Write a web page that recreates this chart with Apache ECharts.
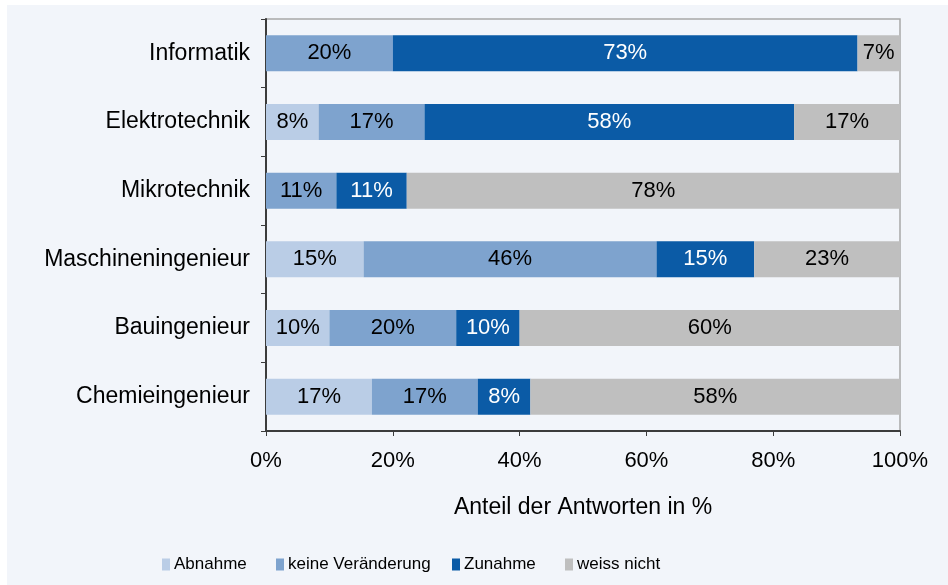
<!DOCTYPE html>
<html>
<head>
<meta charset="utf-8">
<script src="https://cdn.jsdelivr.net/npm/echarts@6/dist/echarts.min.js"></script>
<style>
  html, body { margin: 0; padding: 0; background: #ffffff; }
  #main { position: absolute; left: 7px; top: 5px; width: 941px; height: 580px; }
</style>
</head>
<body>
<div id="main"></div>
<script>
// Kategorien (von oben nach unten)
var categories = ['Informatik', 'Elektrotechnik', 'Mikrotechnik', 'Maschineningenieur', 'Bauingenieur', 'Chemieingenieur'];
var seriesNames = ['Abnahme', 'keine Veränderung', 'Zunahme', 'weiss nicht'];
// Anteile in %
var abnahme = [0, 8.3, 0, 15.4, 10, 16.7];
var keineVeraenderung = [20, 16.7, 11.1, 46.2, 20, 16.7];
var zunahme = [73.3, 58.3, 11.1, 15.4, 10, 8.3];
var weissNicht = [6.7, 16.7, 77.8, 23.1, 60, 58.3];
var xTicks = [0, 20, 40, 60, 80, 100];

var colors = ['#BACDE6', '#7EA3CE', '#0B5BA6', '#BFBFBF'];
var labelColors = ['#000000', '#000000', '#ffffff', '#000000'];
var font = 'Liberation Sans, Arial, sans-serif';
// Legendenpositionen (links), damit die Abstaende wie im Original sind
var legendLeft = [150, 264, 440, 553];

var chart = echarts.init(document.getElementById('main'));

function makeSeries(i, data) {
  return {
    name: seriesNames[i],
    type: 'bar',
    stack: 'total',
    barWidth: 36,
    data: data,
    itemStyle: { color: colors[i] },
    label: {
      show: true,
      position: 'inside',
      color: labelColors[i],
      fontFamily: font,
      fontSize: 22,
      formatter: function (p) {
        return p.value > 0 ? Math.round(p.value) + '%' : '';
      }
    },
    emphasis: { disabled: true }
  };
}

var legends = seriesNames.map(function (n, i) {
  return {
    top: 546,
    left: legendLeft[i],
    itemWidth: 8,
    itemHeight: 12,
    itemGap: 0,
    icon: 'rect',
    selectedMode: false,
    data: [n],
    textStyle: { fontSize: 17, color: '#000', fontFamily: font, padding: [0, 0, 0, -1] }
  };
});

var option = {
  backgroundColor: '#F2F5FA',
  animation: false,
  textStyle: { fontFamily: font },
  grid: {
    left: 259,
    right: 48,
    top: 14,
    bottom: 154,
    show: true,
    borderColor: '#A8A8A8',
    borderWidth: 1.5
  },
  legend: legends,
  xAxis: {
    type: 'value',
    min: 0,
    max: 100,
    interval: 20,
    name: 'Anteil der Antworten in %',
    nameLocation: 'middle',
    nameGap: 65,
    nameTextStyle: { fontSize: 23, color: '#000', fontFamily: font },
    axisLine: { show: true, lineStyle: { color: '#3C3C3C', width: 2 } },
    axisTick: { show: true, length: 5, lineStyle: { color: '#3C3C3C' } },
    splitLine: { show: false },
    axisLabel: {
      fontSize: 22,
      color: '#000',
      margin: 19,
      formatter: function (v) {
        return xTicks.indexOf(v) >= 0 ? v + '%' : '';
      }
    }
  },
  yAxis: {
    type: 'category',
    inverse: true,
    data: categories,
    axisLine: { show: true, lineStyle: { color: '#3C3C3C', width: 2 } },
    axisTick: { show: true, length: 5, alignWithLabel: false, lineStyle: { color: '#3C3C3C' } },
    axisLabel: { fontSize: 23, color: '#000', margin: 16 }
  },
  series: [
    makeSeries(0, abnahme),
    makeSeries(1, keineVeraenderung),
    makeSeries(2, zunahme),
    makeSeries(3, weissNicht)
  ]
};

chart.setOption(option);
</script>
</body>
</html>
